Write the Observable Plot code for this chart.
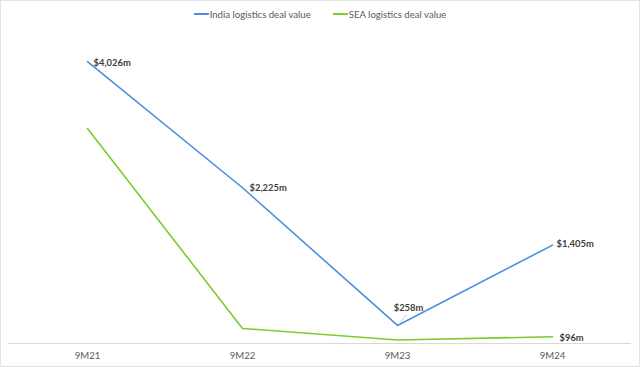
<!DOCTYPE html>
<html>
<head>
<meta charset="utf-8">
<script src="https://cdn.jsdelivr.net/npm/d3@7"></script>
<script src="https://cdn.jsdelivr.net/npm/@observablehq/plot@0.6"></script>
<style>
  html, body { margin: 0; padding: 0; background: #fff; }
  #frame { width: 640px; height: 367px; box-sizing: border-box; border: 1px solid #e3e3e3; position: relative; font-family: Lato, "Open Sans", sans-serif; }
  #legend { height: 26px; display: flex; align-items: center; justify-content: center; font-size: 9.6px; color: #595959; }
  .item { display: flex; align-items: center; margin: 0 11px; }
  .sw { width: 15px; height: 2px; margin-right: 1px; }
  svg { display: block; }
</style>
</head>
<body>
<div id="frame">
  <div id="legend"></div>
  <div id="chart"></div>
</div>
<script>
const periods = ["9M21", "9M22", "9M23", "9M24"];
const seriesNames = ["India logistics deal value", "SEA logistics deal value"];
const indiaValues = [4026, 2225, 258, 1405];
const seaValues = [3070, 215, 50, 96];
const indiaLabels = ["$4,026m", "$2,225m", "$258m", "$1,405m"];
const seaLabels = [null, null, null, "$96m"];
const colors = ["#4A8FDF", "#7CCB2F"];

const rows = [];
periods.forEach((p, i) => {
  rows.push({period: p, series: seriesNames[0], value: indiaValues[i], label: indiaLabels[i]});
  rows.push({period: p, series: seriesNames[1], value: seaValues[i], label: seaLabels[i]});
});

// legend
const legend = document.getElementById("legend");
seriesNames.forEach((s, i) => {
  const it = document.createElement("div");
  it.className = "item";
  it.innerHTML = `<span class="sw" style="background:${colors[i]}"></span><span>${s}</span>`;
  legend.appendChild(it);
});

const labelDx = {"9M21": 6, "9M22": 7, "9M23": 11, "9M24": 4};
const labelDy = {"9M21": 1, "9M22": 0, "9M23": -17, "9M24": -1};

const indiaRows = rows.filter(d => d.series === seriesNames[0]);
const seaRows = rows.filter(d => d.series === seriesNames[1]);

const chart = Plot.plot({
  width: 638,
  height: 338,
  marginLeft: 7,
  marginRight: 8,
  marginTop: 1,
  marginBottom: 22,
  style: {fontFamily: "Lato, 'Open Sans', sans-serif", fontSize: "9.6px", color: "#595959", background: "#fff"},
  x: {type: "point", domain: periods, padding: 0.5, label: null, tickSize: 0, tickPadding: 9},
  y: {domain: [0, 4500], axis: null},
  color: {domain: seriesNames, range: colors},
  marks: [
    Plot.ruleY([0], {stroke: "#d9d9d9", strokeWidth: 1}),
    Plot.axisX({tickSize: 0, tickPadding: 9, fill: "#595959", fontSize: 9.6, label: null}),
    Plot.line(rows, {x: "period", y: "value", z: "series", stroke: "series", strokeWidth: 1.6}),
    // leader line for 9M23 label
    Plot.link(indiaRows.filter(d => d.period === "9M23"), {
      x1: "period", x2: "period", y1: "value", y2: "value",
      stroke: "#bfbfbf", strokeWidth: 0.8,
      render: (index, scales, values, dims, ctx, next) => {
        const g = next(index, scales, values, dims, ctx);
        d3.select(g).selectAll("path").attr("d", function() {
          const i = index[0];
          const x = values.x1[i], y = values.y1[i];
          return `M${x + 2},${y - 2}L${x + 9},${y - 11}`;
        });
        return g;
      }
    }),
    ...periods.map(p => Plot.text(indiaRows.filter(d => d.period === p), {
      x: "period", y: "value", text: "label",
      textAnchor: p === "9M23" ? "middle" : "start",
      dx: labelDx[p], dy: labelDy[p],
      fontWeight: "bold", fontSize: 9.4, fill: "#404040"
    })),
    Plot.text(seaRows.filter(d => d.label), {
      x: "period", y: "value", text: "label", textAnchor: "start",
      dx: 7, dy: 1, fontWeight: "bold", fontSize: 9.4, fill: "#404040"
    })
  ]
});
document.getElementById("chart").appendChild(chart);
</script>
</body>
</html>
